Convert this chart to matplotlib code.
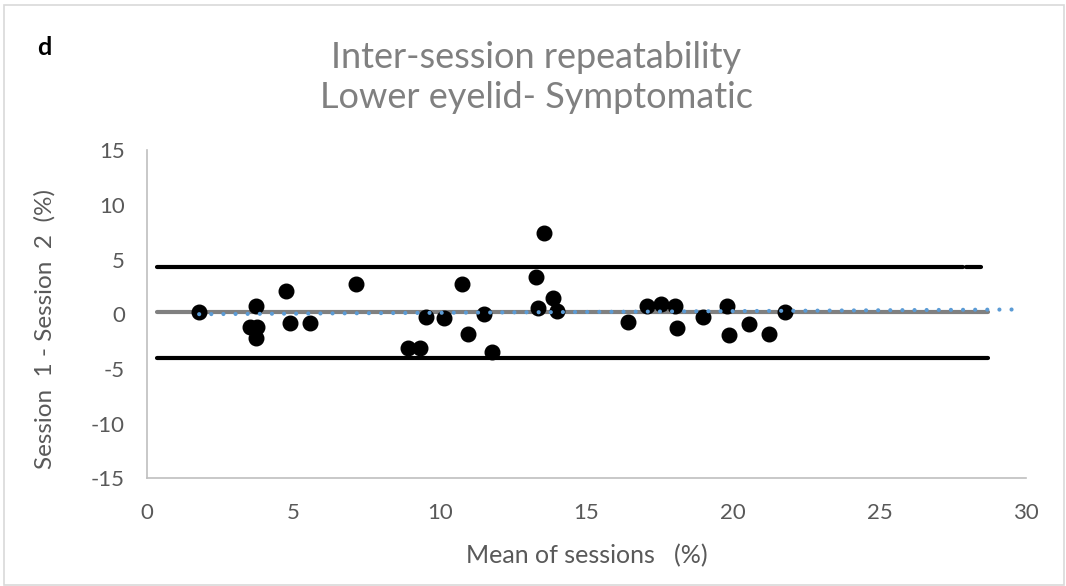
import numpy as np
import matplotlib.pyplot as plt
from matplotlib.patches import Rectangle

plt.rcParams['font.family'] = ['Lato', 'DejaVu Sans']
plt.rcParams['axes.unicode_minus'] = False

# mean of the two sessions (%) and difference session1 - session2 (%)
mean_sessions = [1.78, 3.52, 3.71, 3.74, 3.71, 4.73, 4.88, 5.56, 7.13, 8.92, 9.32,
                 9.52, 10.14, 10.74, 10.97, 11.51, 11.78, 13.28, 13.56, 13.35, 13.85,
                 13.98, 16.43, 17.05, 17.53, 18.02, 18.08, 18.97, 19.81, 19.85, 20.56,
                 21.24, 21.77]
diff_sessions = [0.19, -1.13, 0.77, -1.13, -2.19, 2.17, -0.76, -0.76, 2.75, -3.05, -3.05,
                 -0.21, -0.36, 2.75, -1.82, 0.01, -3.41, 3.45, 7.47, 0.61, 1.47,
                 0.34, -0.72, 0.77, 0.95, 0.80, -1.27, -0.27, 0.77, -1.88, -0.91,
                 -1.82, 0.25]

# bias and limits of agreement
bias = 0.2
upper_loa = 4.38
lower_loa = -4.02
line_x = [0.33, 28.7]
upper_x = [0.33, 27.84]
upper_x2 = [27.94, 28.48]

# excel trendline end points
trend_x = [1.78, 29.75]
trend_y = [0.02, 0.45]

fig = plt.figure(figsize=(10.66, 5.86), dpi=100)
ax = fig.add_axes([0.1379, 0.1838, 0.8246, 0.5594])

ax.plot(upper_x, [upper_loa, upper_loa], color='black', lw=3.0, solid_capstyle='round')
ax.plot(upper_x2, [upper_loa, upper_loa], color='black', lw=3.0, solid_capstyle='round')
ax.plot(line_x, [lower_loa, lower_loa], color='black', lw=3.0, solid_capstyle='round')
ax.plot(line_x, [bias, bias], color='#808080', lw=3.0, solid_capstyle='round')
ax.plot(mean_sessions, diff_sessions, 'o', color='black', markersize=10.5, zorder=3)
ax.plot(trend_x, trend_y, color='#5B9BD5', lw=3.0, dashes=(0.01, 2.9),
        dash_capstyle='round', zorder=4)

ax.set_xlim(0, 30)
ax.set_ylim(-15, 15)
ax.set_xticks(np.arange(0, 31, 5))
ax.set_yticks(np.arange(-15, 16, 5))
for side in ['top', 'right']:
    ax.spines[side].set_visible(False)
for side in ['left', 'bottom']:
    ax.spines[side].set_color('#bfbfbf')
    ax.spines[side].set_linewidth(1.2)
ax.tick_params(length=0, labelsize=16, labelcolor='#595959')
ax.tick_params(axis='y', pad=16)
ax.tick_params(axis='x', pad=18)

ax.set_xlabel('Mean of sessions   (%)', fontsize=18, color='#595959')
ax.set_ylabel('Session  1 - Session  2  (%)', fontsize=17.5, color='#595959')
ax.xaxis.set_label_coords(0.5006, -0.237)
ax.xaxis.label.set_va('center')
ax.yaxis.set_label_coords(-0.116, 0.454)
ax.yaxis.label.set_va('center')

fig.text(0.503, 0.8845, 'Inter-session repeatability', ha='center', va='baseline',
         fontsize=26, color='#808080')
fig.text(0.503, 0.8157, 'Lower eyelid- Symptomatic', ha='center', va='baseline',
         fontsize=26, color='#808080')
fig.text(0.0345, 0.906, 'd', ha='left', va='baseline', fontsize=18, fontweight='bold',
         color='black')

fig.patches.append(Rectangle((0.004, 0.002), 0.994, 0.99, transform=fig.transFigure,
                             fill=False, edgecolor='#d9d9d9', lw=1.2))

fig.savefig('out.png', dpi=100)
